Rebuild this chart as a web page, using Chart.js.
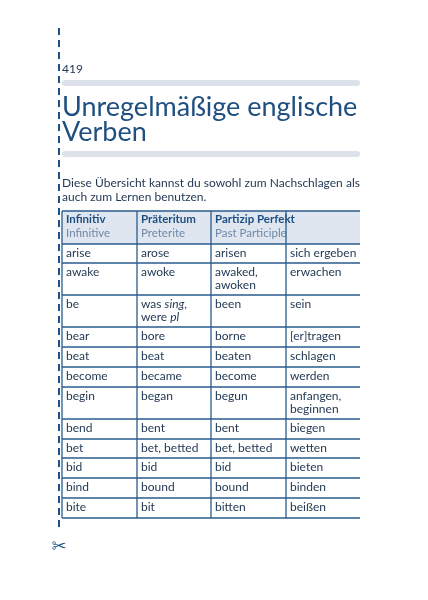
<!DOCTYPE html>
<html><head><meta charset="utf-8">
<script src="https://cdn.jsdelivr.net/npm/chart.js@4/dist/chart.umd.min.js"></script>
<style>html,body{margin:0;padding:0;background:#fff}#wrap{width:428px;height:600px;position:relative}</style>
</head><body><div id="wrap"><canvas id="c"></canvas></div>
<script>
const pageNumber = "419";
const titleLines = ["Unregelmäßige englische", "Verben"];
const introLines = ["Diese Übersicht kannst du sowohl zum Nachschlagen als", "auch zum Lernen benutzen."];
const headerDe = ["Infinitiv", "Präteritum", "Partizip Perfekt", ""];
const headerEn = ["Infinitive", "Preterite", "Past Participle", ""];
const infinitives = ["arise","awake","be","bear","beat","become","begin","bend","bet","bid","bind","bite"];
const preterites = [["arose"],["awoke"],["was sing,","were pl"],["bore"],["beat"],["became"],["began"],["bent"],["bet, betted"],["bid"],["bound"],["bit"]];
const participles = [["arisen"],["awaked,","awoken"],["been"],["borne"],["beaten"],["become"],["begun"],["bent"],["bet, betted"],["bid"],["bound"],["bitten"]];
const translations = [["sich ergeben"],["erwachen"],["sein"],["[er]tragen"],["schlagen"],["werden"],["anfangen,","beginnen"],["biegen"],["wetten"],["bieten"],["binden"],["beißen"]];

const BLUE = "#1d5288", TEXT = "#1f3550", GRAY = "#dde1ea";
const F = "Lato, 'Open Sans', sans-serif";
const colX = [62,137,211,286,360];
const rowY = [211,244,263,295,327,347,367,387,419,439,458,478,498,518];

const pagePlugin = {
  id:'page',
  afterDraw(chart){
    const ctx = chart.ctx;
    ctx.save();
    ctx.strokeStyle = BLUE; ctx.lineWidth = 2; ctx.setLineDash([7,5]);
    ctx.beginPath(); ctx.moveTo(59,28); ctx.lineTo(59,530); ctx.stroke();
    ctx.setLineDash([]);
    ctx.fillStyle = BLUE; ctx.font = "18px 'DejaVu Sans', sans-serif"; ctx.textAlign='center';
    ctx.fillText("✂", 59, 552);
    ctx.textAlign='left';
    ctx.fillStyle = TEXT; ctx.font = "12px "+F; ctx.fillText(pageNumber, 62, 73);
    ctx.fillStyle = GRAY;
    const bar=(y)=>{ctx.beginPath();ctx.roundRect(62,y,298,6,3);ctx.fill();};
    bar(80); bar(151);
    ctx.fillStyle = "#1e4f80"; ctx.font = "27px "+F;
    ctx.fillText(titleLines[0], 62, 116); ctx.fillText(titleLines[1], 62, 141);
    ctx.fillStyle = TEXT; ctx.font = "12px "+F;
    const words = introLines[0].split(" ");
    const total = words.reduce((s,x)=>s+ctx.measureText(x).width,0);
    const gap = (298-total)/(words.length-1);
    let x=62; words.forEach(wd=>{ctx.fillText(wd,x,187);x+=ctx.measureText(wd).width+gap;});
    ctx.fillText(introLines[1], 62, 201);
    ctx.fillStyle = "#dfe6f0"; ctx.fillRect(62,211,298,33);
    ctx.font = "bold 11.5px "+F; ctx.fillStyle = "#1e4f80";
    headerDe.forEach((t,i)=>ctx.fillText(t,colX[i]+4,223));
    ctx.font = "11.5px "+F; ctx.fillStyle = "#6f89a8";
    headerEn.forEach((t,i)=>ctx.fillText(t,colX[i]+4,237));
    const RF = "12px "+F, IF = "italic 12px "+F;
    ctx.fillStyle = TEXT; ctx.font = RF;
    infinitives.forEach((inf,r)=>{
      const y0 = rowY[r+1]+13;
      const cells=[[inf],preterites[r],participles[r],translations[r]];
      cells.forEach((lines,c)=>lines.forEach((ln,k)=>{
        const px=colX[c]+4, py=y0+k*13;
        if(ln.includes(" sing,")){ctx.fillText("was ",px,py);const ww=ctx.measureText("was ").width;ctx.font=IF;ctx.fillText("sing",px+ww,py);const w2=ctx.measureText("sing").width;ctx.font=RF;ctx.fillText(",",px+ww+w2,py);}
        else if(ln.endsWith(" pl")){ctx.fillText("were ",px,py);const ww=ctx.measureText("were ").width;ctx.font=IF;ctx.fillText("pl",px+ww,py);ctx.font=RF;}
        else ctx.fillText(ln,px,py);
      }));
    });
    ctx.strokeStyle = "#2a5b8c"; ctx.lineWidth = 1.3;
    rowY.forEach(y=>{ctx.beginPath();ctx.moveTo(62,y);ctx.lineTo(360,y);ctx.stroke();});
    colX.slice(0,4).forEach(xx=>{ctx.beginPath();ctx.moveTo(xx,211);ctx.lineTo(xx,518);ctx.stroke();});
    ctx.restore();
  }
};
new Chart(document.getElementById('c'),{
  type:'bar',
  data:{labels:[],datasets:[]},
  options:{responsive:true,maintainAspectRatio:false,animation:false,
    plugins:{legend:{display:false},tooltip:{enabled:false}},
    scales:{x:{display:false},y:{display:false}}},
  plugins:[pagePlugin]
});
</script></body></html>
